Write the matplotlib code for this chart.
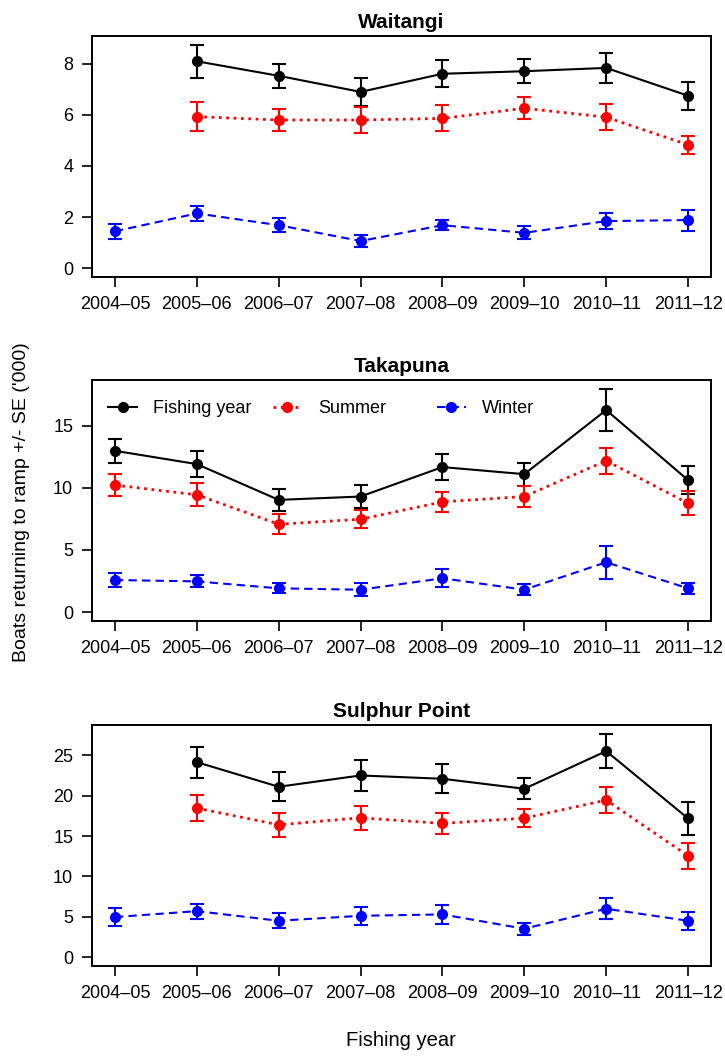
import numpy as np
import matplotlib
matplotlib.use("Agg")
from matplotlib import pyplot as plt

plt.rcParams['font.family'] = ['Liberation Sans', 'DejaVu Sans']

years = ["2004\u201305", "2005\u201306", "2006\u201307", "2007\u201308",
         "2008\u201309", "2009\u201310", "2010\u201311", "2011\u201312"]
nan = np.nan

# Waitangi
wai_fy = [nan, 8.10, 7.53, 6.90, 7.61, 7.71, 7.84, 6.75]
wai_fy_se = [nan, 0.64, 0.47, 0.56, 0.53, 0.47, 0.60, 0.54]
wai_su = [nan, 5.93, 5.80, 5.80, 5.86, 6.26, 5.91, 4.83]
wai_su_se = [nan, 0.57, 0.42, 0.51, 0.51, 0.43, 0.52, 0.36]
wai_wi = [1.44, 2.14, 1.68, 1.06, 1.68, 1.38, 1.84, 1.88]
wai_wi_se = [0.29, 0.29, 0.27, 0.23, 0.19, 0.26, 0.32, 0.41]

# Takapuna
tak_fy = [12.98, 11.91, 9.03, 9.30, 11.67, 11.10, 16.26, 10.62]
tak_fy_se = [0.98, 1.07, 0.86, 0.90, 1.03, 0.92, 1.70, 1.10]
tak_su = [10.22, 9.44, 7.07, 7.47, 8.87, 9.30, 12.18, 8.76]
tak_su_se = [0.90, 0.92, 0.80, 0.72, 0.78, 0.84, 1.05, 0.97]
tak_wi = [2.58, 2.47, 1.91, 1.80, 2.72, 1.80, 4.01, 1.91]
tak_wi_se = [0.60, 0.48, 0.40, 0.52, 0.72, 0.45, 1.32, 0.46]

# Sulphur Point
sul_fy = [nan, 24.17, 21.12, 22.52, 22.11, 20.87, 25.54, 17.19]
sul_fy_se = [nan, 1.92, 1.82, 1.88, 1.80, 1.32, 2.13, 2.02]
sul_su = [nan, 18.47, 16.40, 17.27, 16.57, 17.23, 19.46, 12.56]
sul_su_se = [nan, 1.61, 1.51, 1.51, 1.32, 1.10, 1.62, 1.62]
sul_wi = [4.96, 5.70, 4.50, 5.12, 5.29, 3.51, 5.99, 4.50]
sul_wi_se = [1.13, 0.93, 0.93, 1.12, 1.22, 0.72, 1.32, 1.12]

panels = [
    ("Waitangi", [(wai_fy, wai_fy_se), (wai_su, wai_su_se), (wai_wi, wai_wi_se)], [0, 2, 4, 6, 8]),
    ("Takapuna", [(tak_fy, tak_fy_se), (tak_su, tak_su_se), (tak_wi, tak_wi_se)], [0, 5, 10, 15]),
    ("Sulphur Point", [(sul_fy, sul_fy_se), (sul_su, sul_su_se), (sul_wi, sul_wi_se)], [0, 5, 10, 15, 20, 25]),
]
series_names = ["Fishing year", "Summer", "Winter"]
colours = ["black", "#ff0000", "#0000ff"]
styles = ["-", ":", (0, (4, 2.5))]
widths = [1.5, 2.0, 1.5]
legend_x = [0.026, 0.292, 0.557]

fig = plt.figure(figsize=(7.25, 10.59), dpi=100)
W, H = 725., 1059.
boxes = [(36, 277), (380, 621), (725, 966)]
x = np.arange(len(years))

for (title, series, yt), (top, bot) in zip(panels, boxes):
    ax = fig.add_axes([92 / W, 1 - bot / H, 619 / W, (bot - top) / H])
    ymax = 0
    lines = []
    for (v, se), name, c, ls, lw in zip(series, series_names, colours, styles, widths):
        v = np.array(v); se = np.array(se)
        ax.errorbar(x, v, yerr=se, fmt='none', ecolor=c, elinewidth=1.5,
                    capsize=5, capthick=1.5)
        ln, = ax.plot(x, v, linestyle=ls, color=c, lw=lw, marker='o', markersize=7,
                      label=name)
        lines.append(ln)
        ymax = max(ymax, np.nanmax(v + se))
    pad = 0.04 * ymax
    ax.set_ylim(-pad, ymax + pad)
    ax.set_xlim(-0.28, len(years) - 1 + 0.28)
    ax.set_yticks(yt)
    ax.set_xticks(x)
    ax.set_xticklabels(years)
    ax.tick_params(direction='out', length=7.5, width=1.2, labelsize=13, pad=6)
    for s in ax.spines.values():
        s.set_linewidth(1.4)
    ax.set_title(title, fontsize=15, fontweight='bold', pad=6)
    if title == "Takapuna":
        # one legend per entry, placed like R's horizontal legend
        for i, (ln, lx) in enumerate(zip(lines, legend_x)):
            lg = ax.legend([ln], [ln.get_label()], loc='upper left', frameon=False,
                           fontsize=13, handlelength=1.6, handletextpad=0.9,
                           borderpad=0, borderaxespad=0,
                           bbox_to_anchor=(lx, 0.915))
            if i < len(lines) - 1:
                ax.add_artist(lg)

fig.text(22 / W, 1 - 502 / H, "Boats returning to ramp +/- SE ('000)",
         rotation=90, ha='center', va='center', fontsize=14)
fig.text(401 / W, 1 - 1040 / H, "Fishing year", ha='center', va='center',
         fontsize=14.5)

fig.savefig("out.png", dpi=100)
